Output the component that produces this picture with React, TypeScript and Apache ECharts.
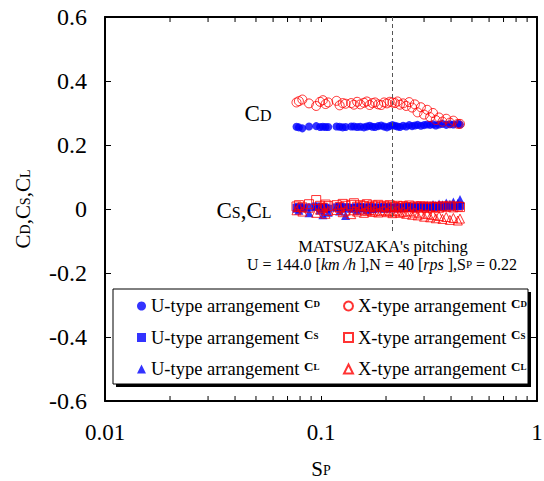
import React, { useEffect, useRef } from "react";
import * as echarts from "echarts";

const FF = '"Liberation Serif", "Times New Roman", serif';

// Spin parameter S_P of each measured point
const SP = [0.077, 0.079, 0.082, 0.088, 0.095, 0.099, 0.102, 0.105, 0.108, 0.118, 0.122, 0.126, 0.13, 0.138, 0.142, 0.147, 0.152, 0.158, 0.163, 0.168, 0.173, 0.178, 0.184, 0.19, 0.196, 0.202, 0.208, 0.214, 0.22, 0.226, 0.232, 0.24, 0.248, 0.256, 0.264, 0.272, 0.28, 0.29, 0.3, 0.31, 0.32, 0.33, 0.34, 0.352, 0.365, 0.38, 0.395, 0.41, 0.43, 0.44];

const U_CD = [0.257, 0.255, 0.252, 0.258, 0.259, 0.256, 0.257, 0.256, 0.256, 0.258, 0.257, 0.255, 0.256, 0.258, 0.258, 0.256, 0.257, 0.255, 0.258, 0.26, 0.257, 0.256, 0.259, 0.261, 0.258, 0.255, 0.259, 0.262, 0.26, 0.258, 0.256, 0.26, 0.258, 0.262, 0.259, 0.261, 0.263, 0.26, 0.262, 0.264, 0.263, 0.265, 0.261, 0.264, 0.266, 0.263, 0.265, 0.264, 0.266, 0.264];
const X_CD = [0.333, 0.337, 0.342, 0.33, 0.322, 0.335, 0.34, 0.328, 0.333, 0.338, 0.324, 0.331, 0.329, 0.331, 0.326, 0.335, 0.327, 0.332, 0.336, 0.325, 0.331, 0.333, 0.327, 0.325, 0.333, 0.33, 0.335, 0.333, 0.331, 0.336, 0.326, 0.33, 0.322, 0.334, 0.317, 0.327, 0.302, 0.318, 0.295, 0.31, 0.287, 0.3, 0.278, 0.286, 0.273, 0.282, 0.27, 0.276, 0.266, 0.266];
const U_CS = [0.004, 0.006, 0.002, 0.005, 0.008, 0.003, 0.006, 0.004, 0.001, 0.005, 0.007, 0.003, 0.006, 0.004, 0.002, 0.005, 0.006, 0.003, 0.004, 0.006, 0.002, 0.005, 0.004, 0.003, 0.006, 0.004, 0.005, 0.003, 0.004, 0.006, 0.005, 0.004, 0.006, 0.005, 0.007, 0.004, 0.006, 0.008, 0.005, 0.007, 0.006, 0.008, 0.006, 0.009, 0.007, 0.008, 0.01, 0.008, 0.009, 0.01];
const U_CL = [0.002, -0.004, 0.006, -0.012, 0.008, -0.003, -0.018, 0.004, -0.01, 0.006, -0.006, 0.003, -0.02, 0.002, 0.005, -0.004, 0.003, 0.006, -0.002, 0.004, 0.001, 0.005, 0.003, 0.006, 0.002, 0.004, 0.007, 0.003, 0.005, 0.008, 0.004, 0.006, 0.009, 0.007, 0.005, 0.01, 0.008, 0.011, 0.009, 0.012, 0.01, 0.014, 0.012, 0.016, 0.013, 0.019, 0.015, 0.022, 0.018, 0.03];
const X_CS = [0.008, 0.012, 0.005, 0.015, 0.028, 0.01, 0.004, 0.014, 0.009, 0.012, 0.006, 0.016, 0.01, 0.013, 0.018, 0.007, 0.012, 0.009, 0.015, 0.006, 0.011, 0.008, 0.013, 0.007, 0.01, 0.005, 0.012, 0.008, 0.006, 0.01, 0.004, 0.009, 0.006, 0.011, 0.005, 0.008, 0.004, 0.009, 0.006, 0.003, 0.008, 0.005, 0.007, 0.004, 0.009, 0.006, 0.01, 0.005, 0.008, 0.006];
const X_CL = [-0.004, 0.006, -0.008, 0.004, -0.012, -0.002, 0.005, -0.015, -0.006, -0.003, 0.004, -0.01, -0.005, -0.016, -0.004, -0.008, -0.002, -0.012, -0.006, -0.003, -0.009, -0.005, -0.011, -0.007, -0.004, -0.01, -0.006, -0.013, -0.008, -0.005, -0.012, -0.009, -0.015, -0.007, -0.018, -0.011, -0.02, -0.014, -0.024, -0.016, -0.026, -0.019, -0.029, -0.022, -0.031, -0.025, -0.034, -0.028, -0.036, -0.03];

// Y tick values and log-axis minor tick positions
const Y_MIN = -0.6;
const Y_MAX = 0.6;
const Y_STEP = 0.2;
const X_MINOR = [0.02, 0.03, 0.04, 0.05, 0.06, 0.07, 0.08, 0.09, 0.2, 0.3, 0.4, 0.5, 0.6, 0.7, 0.8, 0.9];
const SP_MARK = 0.213;
const SP_MARK_END = -0.072;

const pts = (ys: number[]) => SP.map((x, i) => [x, ys[i]]);

export default function App() {
  const ref = useRef<HTMLDivElement>(null);
  useEffect(() => {
    if (!ref.current) return;
    const chart = echarts.init(ref.current, undefined, { renderer: "svg" });
    const blue = "#0000ff";
    const red = "#ff0000";
    const filled = (c: string) => ({ color: c, borderColor: c, borderWidth: 0 });
    const hollow = (c: string) => ({ color: "rgba(255,255,255,0)", borderColor: c, borderWidth: 1 });
    const baseAxis = {
      axisLine: { show: true, onZero: false, lineStyle: { color: "#000", width: 2 } },
      axisTick: { show: true, inside: true, length: 6, lineStyle: { color: "#000", width: 1 } },
      splitLine: { show: false },
    };
    const legendText = {
      fontFamily: FF,
      fontSize: 18.5,
      color: "#000",
      lineHeight: 20,
      overflow: "none",
      rich: {
        c: { fontFamily: FF, fontSize: 13, fontWeight: "bold", color: "#000", padding: [0, 0, 6, 0] },
        s: { fontFamily: FF, fontSize: 9, fontWeight: "bold", color: "#000", padding: [0, 0, 4, 0] },
      },
    };
    const legendFmt = (name: string) => {
      const [t, sub] = name.split("_");
      return `${t}-type arrangement {c|C}{s|${sub.slice(1)}}`;
    };
    const option: any = {
      animation: false,
      grid: { left: 105, right: 7, top: 17, bottom: 80, outerBoundsMode: "none", containLabel: false },
      xAxis: [
        {
          type: "log",
          logBase: 10,
          min: 0.01,
          max: 1,
          ...baseAxis,
          axisTick: { show: true, inside: true, length: 5, lineStyle: { color: "#000", width: 1 } },
          axisLabel: { fontFamily: FF, fontSize: 23, color: "#000", margin: 20 },
          name: "{m|S}{s|P}",
          nameLocation: "middle",
          nameGap: 57,
          nameTextStyle: {
            rich: {
              m: { fontFamily: FF, fontSize: 21, color: "#000", padding: [0, 0, 4, 0] },
              s: { fontFamily: FF, fontSize: 14, color: "#000" },
            },
          },
        },
        {
          type: "log",
          logBase: 10,
          min: 0.01,
          max: 1,
          position: "top",
          ...baseAxis,
          axisTick: { show: true, inside: true, length: 5, lineStyle: { color: "#000", width: 1 } },
          axisLabel: { show: false },
        },
      ],
      yAxis: [
        {
          type: "value",
          min: Y_MIN,
          max: Y_MAX,
          interval: Y_STEP,
          ...baseAxis,
          axisLabel: {
            fontFamily: FF,
            fontSize: 24,
            color: "#000",
            margin: 18,
            formatter: (v: number) => String(Math.round(v * 10) / 10),
          },
          name: "{m|C}{s|D}{m|,C}{s|S}{m|,C}{s|L}",
          nameLocation: "middle",
          nameRotate: 90,
          nameGap: 67,
          nameTextStyle: {
            rich: {
              m: { fontFamily: FF, fontSize: 21, color: "#000", padding: [0, 0, 5, 0] },
              s: { fontFamily: FF, fontSize: 14, color: "#000" },
            },
          },
        },
        {
          type: "value",
          min: Y_MIN,
          max: Y_MAX,
          interval: Y_STEP,
          position: "right",
          ...baseAxis,
          axisLabel: { show: false },
        },
      ],
      legend: [
        {
          orient: "vertical",
          left: 137,
          top: 296,
          padding: 0,
          itemWidth: 9,
          itemHeight: 9,
          itemGap: 11.5,
          z: 10,
          data: ["U_CD", "U_CS", "U_CL"],
          formatter: legendFmt,
          textStyle: legendText,
          selectedMode: false,
        },
        {
          orient: "vertical",
          left: 343,
          top: 296,
          padding: 0,
          itemWidth: 9,
          itemHeight: 9,
          itemGap: 11.5,
          z: 10,
          data: ["X_CD", "X_CS", "X_CL"],
          formatter: legendFmt,
          textStyle: legendText,
          selectedMode: false,
        },
      ],
      graphic: [
        { type: "rect", z: 5, shape: { x: 116, y: 292, width: 415, height: 95 }, style: { fill: "#000" } },
        { type: "rect", z: 6, shape: { x: 113, y: 289, width: 415, height: 95 }, style: { fill: "#fff", stroke: "#000", lineWidth: 1 } },
        {
          type: "text",
          z: 7,
          x: 258,
          y: 115,
          style: {
            text: "{m|C}{s|D}",
            align: "center",
            verticalAlign: "middle",
            rich: {
              m: { fontFamily: FF, fontSize: 23, fill: "#000", padding: [0, 0, 4, 0] },
              s: { fontFamily: FF, fontSize: 16, fill: "#000" },
            },
          },
        },
        {
          type: "text",
          z: 7,
          x: 244,
          y: 212,
          style: {
            text: "{m|C}{s|S}{m|,C}{s|L}",
            align: "center",
            verticalAlign: "middle",
            rich: {
              m: { fontFamily: FF, fontSize: 23, fill: "#000", padding: [0, 0, 4, 0] },
              s: { fontFamily: FF, fontSize: 16, fill: "#000" },
            },
          },
        },
        {
          type: "text",
          z: 7,
          x: 383,
          y: 246,
          style: { text: "MATSUZAKA's pitching", align: "center", verticalAlign: "middle", fontFamily: FF, fontSize: 16.5, lineHeight: 16, fill: "#000" },
        },
        {
          type: "text",
          z: 7,
          x: 382,
          y: 264,
          style: {
            text: "{m|U = 144.0 [}{i|km /h}{m| ],N = 40 [}{i|rps}{m| ],S}{s|P}{m| = 0.22}",
            align: "center",
            verticalAlign: "middle",
            rich: {
              m: { fontFamily: FF, fontSize: 16, lineHeight: 16, fill: "#000" },
              i: { fontFamily: FF, fontSize: 16, lineHeight: 16, fontStyle: "italic", fill: "#000" },
              s: { fontFamily: FF, fontSize: 11, lineHeight: 16, fill: "#000" },
            },
          },
        },
      ],
      series: [
        {
          type: "custom",
          name: "minorTicks",
          xAxisIndex: 0,
          yAxisIndex: 0,
          silent: true,
          clip: false,
          z: 3,
          data: X_MINOR.map((v) => [v, 0]),
          encode: { x: 0, y: 1 },
          renderItem: (params: any, api: any) => {
            const x = api.coord([api.value(0), 0])[0];
            const cs = params.coordSys;
            const st = { stroke: "#000", lineWidth: 1 };
            return {
              type: "group",
              children: [
                { type: "line", shape: { x1: x, y1: cs.y + cs.height, x2: x, y2: cs.y + cs.height - 5 }, style: st },
                { type: "line", shape: { x1: x, y1: cs.y, x2: x, y2: cs.y + 5 }, style: st },
              ],
            };
          },
        },
        {
          name: "U_CD",
          type: "scatter",
          symbol: "circle",
          symbolSize: 8,
          itemStyle: filled(blue),
          data: pts(U_CD),
          markLine: {
            silent: true,
            symbol: "none",
            label: { show: false },
            lineStyle: { type: [4, 3], color: "#555", width: 1 },
            data: [[{ coord: [SP_MARK, Y_MAX] }, { coord: [SP_MARK, SP_MARK_END] }]],
          },
        },
        { name: "U_CS", type: "scatter", symbol: "rect", symbolSize: 8, itemStyle: filled(blue), data: pts(U_CS) },
        { name: "U_CL", type: "scatter", symbol: "triangle", symbolSize: 9, itemStyle: filled(blue), data: pts(U_CL) },
        { name: "X_CD", type: "scatter", symbol: "circle", symbolSize: 9, itemStyle: hollow(red), data: pts(X_CD) },
        { name: "X_CS", type: "scatter", symbol: "rect", symbolSize: 9, itemStyle: hollow(red), data: pts(X_CS) },
        { name: "X_CL", type: "scatter", symbol: "triangle", symbolSize: 9, itemStyle: hollow(red), data: pts(X_CL) },
      ],
    };
    chart.setOption(option);
    return () => chart.dispose();
  }, []);
  return <div ref={ref} style={{ width: 544, height: 481, position: "absolute", left: 0, top: 0 }} />;
}
